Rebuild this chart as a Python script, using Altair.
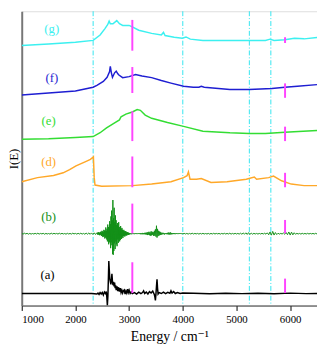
import altair as alt
import pandas as pd
import numpy as np

# ---------------- data ----------------
g_energy = [1000, 1500, 2000, 2330, 2460, 2550, 2600, 2628, 2650, 2700, 2770, 2820, 2880, 3000,
            3060, 3180, 3420, 3600, 3640, 3670, 3840, 3990, 4060, 4140, 4375, 4877, 5540, 5625,
            5700, 5900, 6080, 6260, 6500]
g_value = [270.3, 272.0, 273.7, 275.7, 281.3, 288.0, 292.0, 295.7, 293.0, 293.0, 296.3, 293.0,
           291.3, 291.3, 289.7, 286.3, 283.0, 281.3, 284.0, 280.7, 279.0, 278.0, 279.3, 277.0,
           275.7, 275.7, 275.7, 277.0, 275.7, 276.3, 278.0, 277.3, 278.7]

f_energy = [1000, 1500, 2000, 2330, 2400, 2520, 2590, 2635, 2650, 2670, 2690, 2730, 2760, 2790,
            2810, 2880, 3000, 3120, 3240, 3420, 3600, 3780, 4015, 4195, 4300, 4345, 4400, 4877,
            5237, 5660, 5900, 6135, 6500]
f_value = [219.0, 221.0, 223.0, 227.0, 229.0, 233.0, 237.3, 243.0, 248.7, 242.0, 237.3, 242.0,
           243.7, 241.0, 239.7, 237.0, 238.0, 240.3, 238.7, 237.0, 234.0, 231.3, 228.0, 227.0,
           227.0, 228.0, 227.0, 224.7, 224.7, 225.7, 227.0, 228.0, 229.7]

e_energy = [1000, 1500, 2000, 2330, 2460, 2580, 2700, 2820, 2850, 2940, 3060, 3150, 3210, 3300,
            3420, 3715, 4015, 4375, 4877, 5237, 5540, 5900, 6500]
e_value = [173.0, 173.5, 174.7, 175.7, 179.7, 184.7, 189.0, 193.0, 196.3, 199.0, 201.3, 203.7,
           203.0, 198.0, 194.7, 190.3, 186.3, 181.3, 179.7, 179.0, 179.0, 180.3, 182.0]

d_energy = [1000, 1293, 1592, 1772, 1892, 2011, 2190, 2280, 2320, 2335, 2350, 2365, 2490, 3060,
            3420, 3780, 4015, 4080, 4105, 4135, 4255, 4345, 4525, 4825, 5183, 5332, 5375, 5600,
            5690, 5840, 6020, 6260, 6500]
d_value = [128.7, 133.0, 135.3, 138.0, 141.3, 145.3, 149.7, 152.0, 154.0, 154.7, 133.0, 125.3,
           124.0, 124.7, 126.3, 128.7, 133.0, 135.0, 139.0, 131.3, 131.3, 132.0, 128.0, 128.7,
           131.3, 133.7, 131.3, 133.0, 134.7, 129.7, 126.3, 124.7, 124.7]

# (b): noisy difference trace, deviations about its baseline, segment by segment
b_baseline = 74.7
b_seg1 = [0.3, -0.4, 0.5, -0.2, 0.4, -0.5, 0.3, -0.4, 0.2, -0.3,
          0.4, -0.3, 0.5, -0.4, 0.3, -0.2, 0.4, -0.5, 0.3, -0.3,
          0.2, -0.4, 0.5, -0.3, 0.4, -0.2, 0.3, -0.4, 0.5, -0.3,
          0.4, -0.3, 0.2, -0.5, 0.4, -0.3, 0.3, -0.4, 0.5, -0.2,
          0.3, -0.4, 0.4, -0.3, 0.5, -0.4, 0.3, -0.5, 0.6, -0.5,
          0.7, -0.6, 0.8, -0.7, 0.9, -0.8, 1.0]
b_seg2 = [0.8, -1.0, 1.2, -0.6, 1.5, -1.2, 0.9, -1.6, 1.3, -0.8,
          2.0, -1.5, 1.2, -2.4, 3.0, -1.8, 2.2, -3.5, 1.6, -2.8,
          4.0, -2.5, 3.2, -5.0, 2.4, -3.8, 6.5, -4.0, 3.0, -6.0,
          5.0, -8.0, 9.5, -4.5, 7.0, -11.0, 6.0, -9.0, 13.0, -7.0,
          10.0, -15.0, 18.0, -9.0, 24.0, -12.0, 14.0, -21.0, 35.0, -22.0,
          16.0, -18.0, 27.0, -10.0, 12.0, -16.0, 19.0, -8.0, 14.0, -11.0,
          9.0, -13.0, 11.0, -6.0, 8.0, -9.5, 12.0, -5.0, 7.0, -8.0,
          5.0, -6.5, 8.0, -3.5, 4.5, -5.5, 6.0, -3.0, 4.0, -4.5,
          3.0, -2.5, 4.0, -2.0, 2.5, -3.0, 2.0, -1.8, 2.8, -1.5,
          1.5, -2.0, 1.2, -1.0, 1.6, -0.9, 1.0, -1.2, 0.8, -0.7]
b_seg3 = [0.6, -0.5, 0.4, -0.6, 0.5, -0.4, 0.5, -0.4, 0.3, -0.5,
          0.4, -0.3, 0.5, -0.4, 0.3, -0.4, 0.4, -0.3, 0.4, -0.4,
          0.5, -0.6, 0.4, -0.5, 0.8, -0.6, 0.6, -0.5, 0.9, -0.7,
          1.0, -0.8, 1.2, -1.4, 1.6, -1.0, 2.0, -1.6, 1.4, -2.0,
          2.5, -1.8, 2.0, -1.2, 1.6, -2.4, 3.0, -2.0, 4.5, -3.0,
          8.3, -4.0, 5.0, -2.5, 3.0, -1.8, 2.2, -1.4, 1.6, -1.0,
          0.8, -0.6, 1.0, -0.5, 0.6, -0.8, 0.5, -0.4, 0.6, -0.5,
          0.8, -0.6, 1.2, -0.8, 1.0, -0.9, 1.3, -0.7, 0.8, -0.6,
          0.5, -0.4, 0.6, -0.4, 0.5, -0.5, 0.4, -0.3, 0.5, -0.4,
          0.3, -0.4, 0.5, -0.3, 0.4, -0.3, 0.3, -0.4, 0.3, -0.3]
b_seg4 = [0.4, -0.3, 0.3, -0.4, 0.3, -0.3, 0.5, -0.3, 0.3, -0.2,
          0.3, -0.4, 0.3, -0.3, 0.4, -0.3, 0.2, -0.3, 0.3, -0.4,
          0.3, -0.3, 0.4, -0.3, 0.3, -0.2, 0.3, -0.4, 0.3, -0.3,
          0.4, -0.3, 0.3, -0.3, 0.5, -0.4, 0.3, -0.3, 0.4, -0.3,
          0.3, -0.4, 0.5, -0.5, 0.7, -0.5, 0.9, -0.7, 1.1, -0.8,
          0.7, -0.5, 0.4, -0.3, 0.3, -0.4, 0.3, -0.3, 0.4, -0.3,
          0.5, -0.5, 0.9, -1.1, 1.8, -1.5, 2.4, -1.4, 1.2, -0.9,
          0.5, -0.4, 0.3, -0.3, 0.7, -0.6, 1.2, -1.0, 1.8, -1.4,
          1.6, -1.2, 1.0, -0.6, 0.4, -0.3, 0.3, -0.4, 0.4, -0.3,
          0.3, -0.3, 0.4, -0.3, 0.3, -0.2, 0.3, -0.3, 0.4, -0.3]

a_energy = [1000, 1500, 2000, 2300, 2400, 2420, 2440, 2460, 2480, 2500, 2520, 2540, 2560, 2575,
            2585, 2595, 2605, 2615, 2622, 2630, 2640, 2650, 2660, 2670, 2680, 2690, 2700, 2710,
            2720, 2730, 2740, 2750, 2760, 2775, 2790, 2805, 2820, 2835, 2850, 2865, 2880, 2895,
            2910, 2925, 2940, 2955, 2970, 2985, 3000, 3020, 3040, 3060, 3100, 3140, 3180, 3220,
            3250, 3270, 3290, 3320, 3350, 3380, 3410, 3440, 3470, 3480, 3490, 3500, 3510, 3520,
            3530, 3540, 3560, 3600, 3640, 3680, 3720, 3760, 3780, 3800, 3830, 3860, 3900, 3950,
            4000, 4200, 4500, 4800, 5100, 5400, 5700, 6000, 6300, 6500]
a_value = [12.5, 12.5, 12.5, 12.5, 12.0, 13.0, 11.5, 13.5, 12.0, 13.5, 11.0, 14.0, 12.5, 14.5,
           9.0, 0.0, 10.0, 30.0, 46.3, 38.0, 28.0, 25.0, 22.0, 26.0, 33.0, 25.0, 21.3, 24.7,
           20.0, 24.0, 18.0, 21.0, 16.0, 20.0, 15.0, 19.0, 14.5, 18.0, 13.5, 16.0, 13.0, 15.5,
           16.3, 12.0, 15.0, 13.0, 17.0, 13.5, 16.0, 12.5, 14.0, 12.5, 13.5, 12.0, 14.0, 12.5,
           13.5, 15.3, 12.5, 14.0, 12.0, 14.5, 13.0, 15.0, 11.5, 9.0, 5.3, 12.0, 20.0, 27.3,
           18.0, 12.0, 13.5, 12.5, 14.0, 12.5, 13.8, 12.8, 15.3, 13.0, 14.5, 12.5, 13.5, 12.5,
           13.0, 12.8, 12.3, 12.7, 12.4, 12.8, 12.3, 12.9, 12.4, 12.6]

series_keys = ["a", "b", "d", "e", "f", "g"]
series_colors = ["#000000", "#139018", "#FFA828", "#33DD33", "#1E1ED2", "#3CF0F0"]

guide_lines = [2330, 4000, 5240, 5640]          # cyan dash-dot markers

mark_series = ["g", "g", "f", "f", "e", "e", "d", "d", "b", "b", "a", "a"]
mark_energy = [3060, 5905] * 6
mark_low = [265, 273, 221, 216, 171, 171, 123, 123, 75, 75, 13, 13]
mark_high = [297, 279, 248, 231, 202, 186, 155, 138, 106, 89, 45, 28]

label_series = ["g", "f", "e", "d", "b", "a"]
label_text = ["(g)", "(f)", "(e)", "(d)", "(b)", "(a)"]
label_energy = [1560, 1560, 1500, 1500, 1500, 1480]
label_value = [287, 237, 192, 149, 92, 32]

# ---------------- tables ----------------
b_energy = np.concatenate([
    np.linspace(1000, 2400, len(b_seg1)),
    np.linspace(2410, 3004, len(b_seg2)),
    np.linspace(3010, 4000, len(b_seg3)),
    np.linspace(4025, 6500, len(b_seg4)),
])
b_value = b_baseline + np.array(b_seg1 + b_seg2 + b_seg3 + b_seg4)

frames = []
for key, en, val in [("a", a_energy, a_value), ("d", d_energy, d_value),
                     ("e", e_energy, e_value), ("f", f_energy, f_value), ("g", g_energy, g_value)]:
    frames.append(pd.DataFrame({"energy": list(en), "value": list(val), "series": key}))
traces = pd.concat(frames, ignore_index=True)
b_df = pd.DataFrame({"energy": b_energy, "value": b_value, "series": "b"})

marks_df = pd.DataFrame({"series": mark_series, "energy": mark_energy, "low": mark_low, "high": mark_high})
labels_df = pd.DataFrame({"series": label_series, "text": label_text, "energy": label_energy, "value": label_value})
guides_df = pd.DataFrame({"energy": guide_lines})

SERIF = "Liberation Serif, Times New Roman, DejaVu Serif, serif"

x_scale = alt.Scale(domain=[1000, 6500], nice=False, zero=False)
y_scale = alt.Scale(domain=[0, 306], nice=False, zero=False)
color_scale = alt.Scale(domain=series_keys, range=series_colors)

x_axis = alt.Axis(
    values=list(range(1000, 6501, 500)),
    labelExpr="datum.value % 1000 === 0 ? datum.label : ''",
    format="d",
    labelOverlap=False,
    labelFont=SERIF, labelFontSize=11, labelColor="#000000", labelPadding=3,
    tickSize={"condition": {"test": "datum.value % 1000 !== 0", "value": 3}, "value": 5},
    tickColor="#000000", domainColor="#333333", grid=False,
    title="Energy / cm⁻¹", titleFont=SERIF, titleFontSize=14, titleFontWeight="normal",
    titleColor="#000000", titlePadding=6,
)
y_axis = alt.Axis(
    labels=False, ticks=False, grid=False, domainColor="#777777", domainWidth=2,
    title="I(E)", titleFont=SERIF, titleFontSize=13, titleFontWeight="normal",
    titleColor="#000000", titlePadding=1,
)

guides = alt.Chart(guides_df).mark_rule(
    color="#33E6F0", strokeDash=[5, 2, 1, 2], strokeWidth=1
).encode(x=alt.X("energy:Q", scale=x_scale, axis=x_axis))

lines = alt.Chart(traces).mark_line(strokeWidth=1.5, clip=True).encode(
    x=alt.X("energy:Q", scale=x_scale, axis=x_axis),
    y=alt.Y("value:Q", scale=y_scale, axis=y_axis),
    color=alt.Color("series:N", scale=color_scale, legend=None),
    detail="series:N",
)

b_line = alt.Chart(b_df).mark_line(strokeWidth=1, clip=True).encode(
    x=alt.X("energy:Q", scale=x_scale),
    y=alt.Y("value:Q", scale=y_scale),
    color=alt.Color("series:N", scale=color_scale, legend=None),
)

ticks = alt.Chart(marks_df).mark_rule(color="#FF44FF", strokeWidth=2).encode(
    x=alt.X("energy:Q", scale=x_scale),
    y=alt.Y("low:Q", scale=y_scale),
    y2="high:Q",
)

labels = alt.Chart(labels_df).mark_text(font=SERIF, fontSize=13).encode(
    x=alt.X("energy:Q", scale=x_scale),
    y=alt.Y("value:Q", scale=y_scale),
    text="text:N",
    color=alt.Color("series:N", scale=color_scale, legend=None),
)

chart = alt.layer(guides, lines, b_line, ticks, labels).properties(
    width=301, height=300,
    autosize=alt.AutoSizeParams(type="none"),
    padding={"left": 14, "top": 0, "right": 0, "bottom": 42},
).configure_view(stroke="#888888", strokeWidth=1).configure(background="white")

chart.save("out.html", embed_options={"renderer": "svg", "actions": False})
